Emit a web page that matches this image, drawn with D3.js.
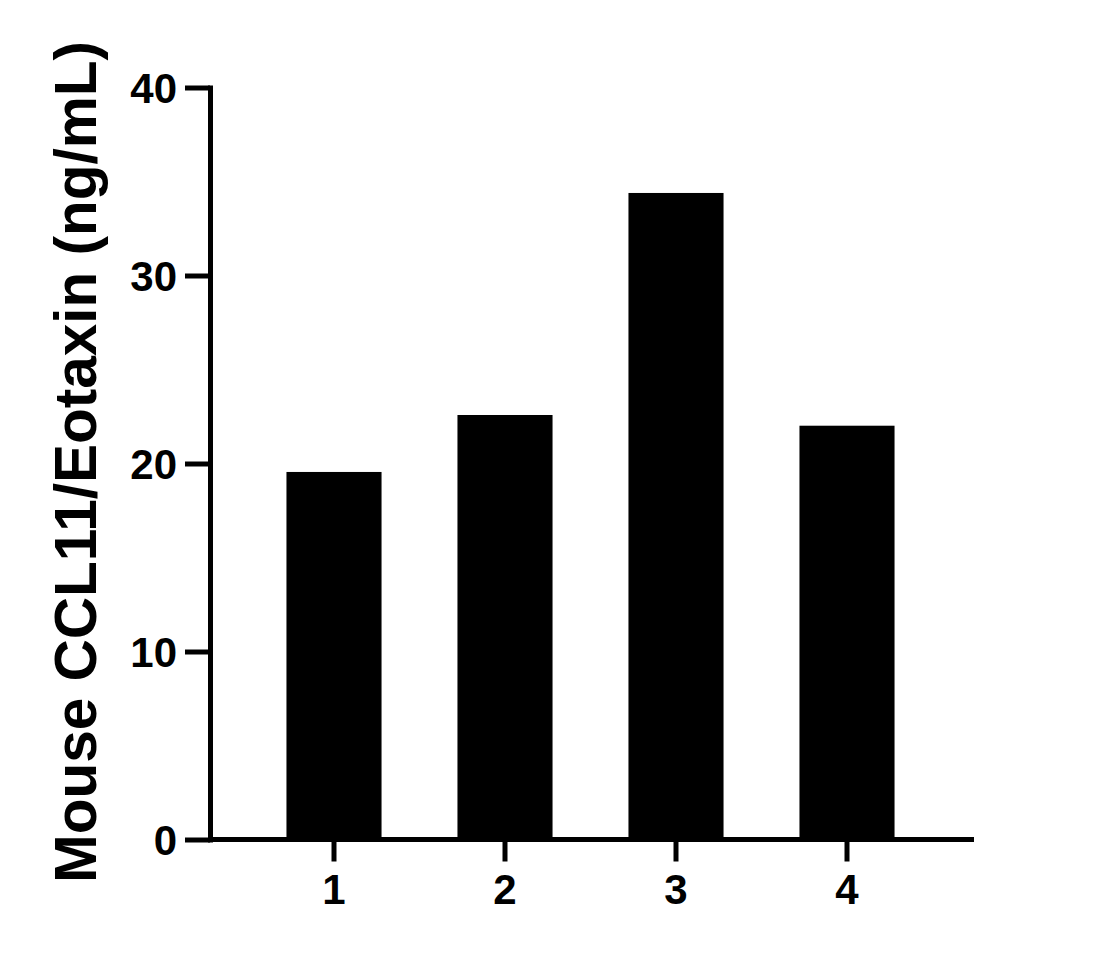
<!DOCTYPE html>
<html><head><meta charset="utf-8">
<script src="https://cdn.jsdelivr.net/npm/d3@7"></script>
<style>
body{margin:0;background:#fff;}
svg{display:block;}
text{font-family:"Liberation Sans",Arial,sans-serif;font-weight:bold;fill:#000;}
</style></head>
<body>
<script>
const categories = ["1","2","3","4"];
const values = [19.55, 22.58, 34.39, 22.01];
const yTicks = [0,10,20,30,40];
const yTitle = "Mouse CCL11/Eotaxin (ng/mL)";

const W = 1105, H = 957;
const svg = d3.select("body").append("svg").attr("width", W).attr("height", H);

const y = d3.scaleLinear().domain([0,40]).range([839.5, 87.5]);
const x = d3.scaleBand().domain(categories).range([248.5, 932.5]).paddingInner(0.444).paddingOuter(0.222);

// bars
svg.append("g").selectAll("rect").data(values).join("rect")
  .attr("x", (d,i)=>x(categories[i]))
  .attr("width", x.bandwidth())
  .attr("y", d=>y(d))
  .attr("height", d=>y(0)-y(d))
  .attr("fill","#000");

// y axis
const ya = svg.append("g").attr("transform","translate(210,0)")
  .call(d3.axisLeft(y).tickValues(yTicks).tickSize(25).tickPadding(8).tickSizeOuter(0));
ya.select(".domain").attr("stroke","#000").attr("stroke-width",5).attr("stroke-linecap","square");
ya.selectAll(".tick line").attr("stroke","#000").attr("stroke-width",5);
ya.selectAll(".tick text").attr("font-size",42).attr("font-family","Liberation Sans, Arial, sans-serif").attr("font-weight","bold").attr("dy","0.36em");

// x axis
const xa = svg.append("g").attr("transform","translate(0,839.5)")
  .call(d3.axisBottom(x).tickSize(22).tickPadding(12).tickSizeOuter(0));
xa.select(".domain").attr("d","M210,0H974").attr("stroke","#000").attr("stroke-width",5);
xa.selectAll(".tick line").attr("stroke","#000").attr("stroke-width",5);
xa.selectAll(".tick text").attr("font-size",42).attr("font-family","Liberation Sans, Arial, sans-serif").attr("font-weight","bold").attr("dy","0.72em");

// y title
svg.append("text")
  .attr("transform","translate(96,462) rotate(-90)")
  .attr("text-anchor","middle")
  .attr("font-size",58.5)
  .text(yTitle);
</script>
</body></html>
